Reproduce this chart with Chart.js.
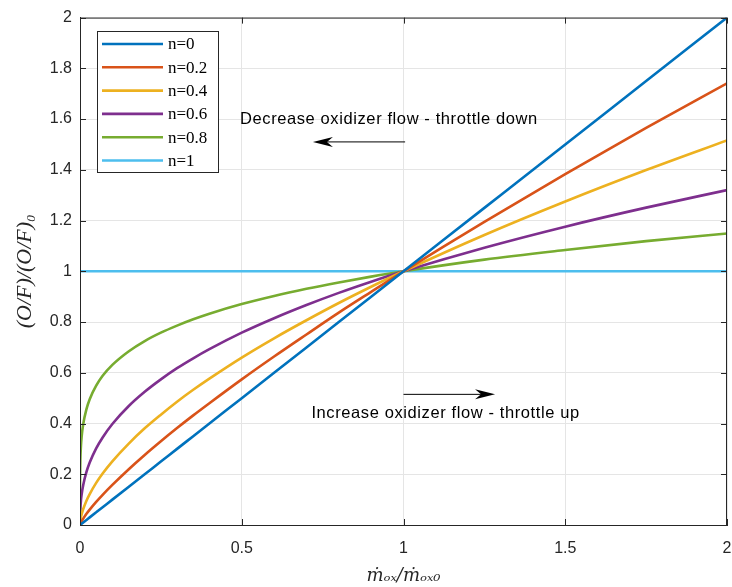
<!DOCTYPE html>
<html>
<head>
<meta charset="utf-8">
<script src="https://cdn.jsdelivr.net/npm/chart.js@4.4.1/dist/chart.umd.min.js"></script>
<style>
  html, body { margin: 0; padding: 0; background: #fff; }
  #wrap { width: 732px; height: 587px; }
</style>
</head>
<body>
<div id="wrap"><canvas id="chart-of"></canvas></div>
<script>
// mass flow ratio samples (x axis)
const xs = [0, 0.0001, 0.0003, 0.001, 0.003, 0.005, 0.01, 0.02, 0.03, 0.05, 0.07, 0.1, 0.15, 0.2, 0.25, 0.3, 0.35, 0.4, 0.5, 0.6, 0.7, 0.8, 0.9, 1, 1.25, 1.5, 1.75, 2];

// O/F ratio
const n0  = [0, 0.0001, 0.0003, 0.001, 0.003, 0.005, 0.01, 0.02, 0.03, 0.05, 0.07, 0.1, 0.15, 0.2, 0.25, 0.3, 0.35, 0.4, 0.5, 0.6, 0.7, 0.8, 0.9, 1, 1.25, 1.5, 1.75, 2];
const n02 = [0, 0.0006, 0.0015, 0.004, 0.0096, 0.014, 0.025, 0.044, 0.0605, 0.091, 0.119, 0.158, 0.219, 0.276, 0.330, 0.382, 0.432, 0.480, 0.574, 0.664, 0.751, 0.837, 0.919, 1, 1.195, 1.383, 1.565, 1.741];
const n04 = [0, 0.004, 0.0077, 0.016, 0.0307, 0.042, 0.063, 0.096, 0.122, 0.166, 0.203, 0.251, 0.320, 0.381, 0.435, 0.486, 0.533, 0.577, 0.660, 0.736, 0.807, 0.875, 0.939, 1, 1.143, 1.275, 1.399, 1.516];
const n06 = [0, 0.025, 0.039, 0.063, 0.098, 0.120, 0.158, 0.209, 0.246, 0.302, 0.345, 0.398, 0.468, 0.525, 0.574, 0.618, 0.657, 0.693, 0.758, 0.815, 0.867, 0.915, 0.959, 1, 1.093, 1.176, 1.251, 1.320];
const n08 = [0, 0.158, 0.197, 0.251, 0.313, 0.347, 0.398, 0.457, 0.496, 0.549, 0.588, 0.631, 0.684, 0.725, 0.758, 0.786, 0.811, 0.833, 0.871, 0.903, 0.931, 0.956, 0.979, 1, 1.046, 1.084, 1.119, 1.149];
const n1  = [1, 1, 1, 1, 1, 1, 1, 1, 1, 1, 1, 1, 1, 1, 1, 1, 1, 1, 1, 1, 1, 1, 1, 1, 1, 1, 1, 1];

const seriesLabels = ["n=0", "n=0.2", "n=0.4", "n=0.6", "n=0.8", "n=1"];
const seriesData = [n0, n02, n04, n06, n08, n1];
const colors = ["#0072BD", "#D95319", "#EDB120", "#7E2F8E", "#77AC30", "#4DBEEE"];

const xTicks = [0, 0.5, 1, 1.5, 2];
const yTicks = [0, 0.2, 0.4, 0.6, 0.8, 1, 1.2, 1.4, 1.6, 1.8, 2];

const AXIS = "#262626";

const datasets = seriesData.map((ys, i) => ({
    label: seriesLabels[i],
    data: xs.map((x, j) => ({ x: x, y: ys[j] })),
    borderColor: colors[i],
    backgroundColor: colors[i],
    borderWidth: 2.6,
    pointRadius: 0,
    cubicInterpolationMode: "monotone",
    fill: false,
}));

// box, inward ticks, legend and the two notes
const matlabLook = {
    id: "matlabLook",
    afterDraw(chart) {
        const ctx = chart.ctx;
        const a = chart.chartArea;
        const sx = chart.scales.x, sy = chart.scales.y;
        ctx.save();

        // box
        ctx.strokeStyle = AXIS;
        ctx.lineWidth = 1;
        ctx.strokeRect(a.left + 0.5, a.top + 0.5, a.right - a.left - 1, a.bottom - a.top);

        // inward ticks
        ctx.beginPath();
        xTicks.forEach(t => {
            const px = Math.round(sx.getPixelForValue(t)) + 0.5;
            ctx.moveTo(px, a.bottom); ctx.lineTo(px, a.bottom - 6);
            ctx.moveTo(px, a.top); ctx.lineTo(px, a.top + 6);
        });
        yTicks.forEach(t => {
            const py = Math.round(sy.getPixelForValue(t)) + 0.5;
            ctx.moveTo(a.left, py); ctx.lineTo(a.left + 6, py);
            ctx.moveTo(a.right, py); ctx.lineTo(a.right - 6, py);
        });
        ctx.stroke();

        // legend
        const lx = 97, ly = 31, lw = 121, lh = 141;
        ctx.fillStyle = "#fff";
        ctx.fillRect(lx, ly, lw, lh);
        ctx.strokeStyle = AXIS;
        ctx.strokeRect(lx + 0.5, ly + 0.5, lw, lh);
        ctx.font = "17px 'Liberation Serif'";
        ctx.textBaseline = "middle";
        ctx.textAlign = "left";
        chart.data.datasets.forEach((ds, i) => {
            const y = ly + 13 + i * 23.3;
            ctx.strokeStyle = ds.borderColor;
            ctx.lineWidth = 2.6;
            ctx.beginPath();
            ctx.moveTo(lx + 5, y); ctx.lineTo(lx + 66, y);
            ctx.stroke();
            ctx.fillStyle = "#000";
            ctx.fillText(ds.label, lx + 71, y + 1);
        });

        // notes and arrows
        ctx.font = "16.5px 'Liberation Sans'";
        ctx.letterSpacing = "0.6px";
        ctx.fillStyle = "#000";
        ctx.textAlign = "center";
        ctx.fillText("Decrease oxidizer flow - throttle down", sx.getPixelForValue(0.955), sy.getPixelForValue(1.60));
        ctx.fillText("Increase oxidizer flow - throttle up", sx.getPixelForValue(1.13), sy.getPixelForValue(0.44));
        ctx.letterSpacing = "0px";

        const arrow = (x0, x1, yv) => {
            const p0 = sx.getPixelForValue(x0), p1 = sx.getPixelForValue(x1), py = sy.getPixelForValue(yv);
            const dir = Math.sign(p1 - p0);
            ctx.strokeStyle = "#000";
            ctx.lineWidth = 1;
            ctx.beginPath();
            ctx.moveTo(p0, py); ctx.lineTo(p1 - dir * 8, py);
            ctx.stroke();
            ctx.beginPath();
            ctx.moveTo(p1, py);
            ctx.lineTo(p1 - dir * 20, py - 5);
            ctx.lineTo(p1 - dir * 14, py);
            ctx.lineTo(p1 - dir * 20, py + 5);
            ctx.closePath();
            ctx.fill();
        };
        arrow(1.005, 0.72, 1.51);
        arrow(1.0, 1.283, 0.515);

        ctx.restore();
    }
};

new Chart(document.getElementById("chart-of"), {
    type: "line",
    data: { datasets: datasets },
    options: {
        responsive: true,
        maintainAspectRatio: false,
        animation: false,
        layout: { padding: { top: 16, right: 5, left: 0, bottom: 0 } },
        plugins: {
            legend: { display: false },
            tooltip: { enabled: false },
        },
        scales: {
            x: {
                type: "linear",
                min: 0, max: 2,
                afterBuildTicks: s => { s.ticks = xTicks.map(v => ({ value: v })); },
                afterFit: s => { s.height = 62; s.paddingRight = 0; s.paddingLeft = 0; },
                ticks: {
                    color: AXIS,
                    font: { family: "'Liberation Sans'", size: 16 },
                    padding: 14,
                    maxRotation: 0,
                    callback: v => String(v),
                },
                grid: { color: "#e5e5e5", tickLength: 0, drawTicks: false },
                border: { color: AXIS },
                title: {
                    display: true,
                    text: "ṁₒₓ/ṁₒₓ₀",
                    color: AXIS,
                    font: { family: "'DejaVu Serif'", style: "italic", size: 18 },
                    padding: { top: 0, bottom: 0 },
                },
            },
            y: {
                type: "linear",
                min: 0, max: 2,
                afterBuildTicks: s => { s.ticks = yTicks.map(v => ({ value: v })); },
                afterFit: s => { s.width = 80; },
                ticks: {
                    color: AXIS,
                    font: { family: "'Liberation Sans'", size: 16 },
                    padding: 8,
                    callback: v => String(Math.round(v * 10) / 10),
                },
                grid: { color: "#e5e5e5", tickLength: 0, drawTicks: false },
                border: { color: AXIS },
                title: {
                    display: true,
                    text: "(O/F)/(O/F)₀",
                    color: AXIS,
                    font: { family: "'Liberation Serif'", style: "italic", size: 22 },
                    padding: { top: 12, bottom: 0 },
                },
            },
        },
    },
    plugins: [matlabLook],
});
</script>
</body>
</html>
